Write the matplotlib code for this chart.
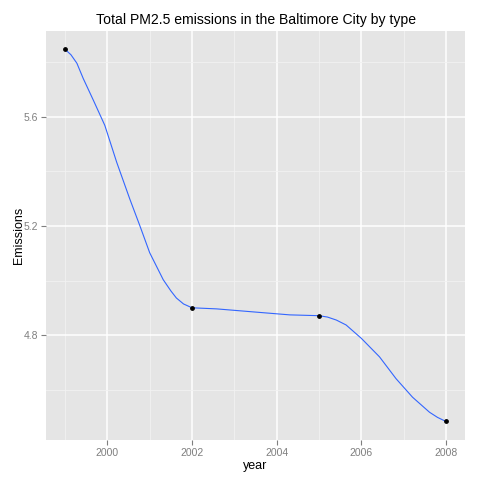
import matplotlib
matplotlib.use("Agg")
import matplotlib.pyplot as plt
from matplotlib.ticker import MultipleLocator

# observed points
years = [1999, 2002, 2005, 2008]
emissions = [5.848, 4.900, 4.871, 4.483]

# smoothed curve
curve_years = [1999.0, 1999.14, 1999.28, 1999.43, 1999.67, 1999.94, 2000.22, 2000.53, 2000.77,
               2001.0, 2001.32, 2001.5, 2001.63, 2001.8, 2002.0, 2002.58, 2003.52, 2004.31, 2005.0,
               2005.2, 2005.41, 2005.64, 2006.0, 2006.43, 2006.82, 2007.21, 2007.61, 2007.8, 2008.0]
curve_values = [5.848, 5.828, 5.797, 5.741, 5.661, 5.569, 5.434, 5.299, 5.200,
                5.102, 5.003, 4.962, 4.936, 4.914, 4.900, 4.896, 4.884, 4.874, 4.871,
                4.866, 4.855, 4.837, 4.788, 4.720, 4.640, 4.572, 4.517, 4.498, 4.483]

x_ticks = [2000, 2002, 2004, 2006, 2008]
y_ticks = [4.8, 5.2, 5.6]

plt.rcParams['font.family'] = ['Liberation Sans', 'DejaVu Sans']

fig = plt.figure(figsize=(4.8, 4.8), dpi=100)
ax = fig.add_axes([0.0958, 0.0833, 0.873, 0.852])
ax.set_facecolor('#E5E5E5')

ax.plot(curve_years, curve_values, color='#3366FF', linewidth=0.8, zorder=3)
ax.scatter(years, emissions, color='black', s=6, zorder=4)

ax.set_xlim(1998.55, 2008.45)
ax.set_ylim(4.415, 5.915)
ax.set_xticks(x_ticks)
ax.set_yticks(y_ticks)
ax.xaxis.set_minor_locator(MultipleLocator(1))
ax.yaxis.set_minor_locator(MultipleLocator(0.2))
ax.xaxis.set_minor_formatter(plt.NullFormatter())

ax.grid(True, which='major', color='white', linewidth=1.1)
ax.grid(True, which='minor', color='#F2F2F2', linewidth=0.6)
ax.set_axisbelow(True)
for s in ax.spines.values():
    s.set_visible(False)

ax.tick_params(which='major', length=3.5, width=0.8, color='#7F7F7F',
               labelcolor='#7F7F7F', labelsize=7.5, pad=2)
ax.tick_params(which='minor', length=0)

ax.set_xlabel('year', fontsize=9, labelpad=2)
ax.set_ylabel('Emissions', fontsize=9, labelpad=-0.5)
ax.set_title('Total PM2.5 emissions in the Baltimore City by type', fontsize=10.1, pad=5)

fig.savefig('out.png', dpi=100)
